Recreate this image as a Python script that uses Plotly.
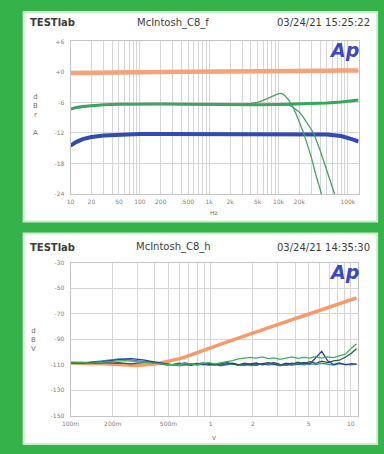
import plotly.graph_objects as go

# ---------------- data: top chart (frequency response) ----------------
freq_top = [10, 12, 15, 20, 30, 50, 100, 200, 500, 1000, 2000, 5000, 10000,
            20000, 30000, 50000, 80000, 100000, 120000, 143000]
orange_top = [-0.2, -0.2, -0.15, -0.1, -0.05, 0.0, 0.0, 0.0, 0.05, 0.05, 0.1,
              0.1, 0.15, 0.2, 0.2, 0.25, 0.3, 0.3, 0.3, 0.3]
green_top = [-7.3, -7.0, -6.8, -6.6, -6.45, -6.35, -6.3, -6.3, -6.35, -6.4,
             -6.45, -6.45, -6.4, -6.3, -6.2, -6.1, -5.9, -5.8, -5.6, -5.5]
blue_top = [-14.5, -13.8, -13.2, -12.8, -12.5, -12.3, -12.2, -12.2, -12.2,
            -12.2, -12.2, -12.2, -12.2, -12.2, -12.2, -12.3, -12.6, -12.9,
            -13.3, -13.7]

freq_thin1 = [10, 20, 50, 100, 1000, 3000, 4000, 5000, 6000, 7000, 8000, 9000,
              10000, 11000, 12000, 14000, 16000, 18000, 20000, 23000, 25000,
              30000, 35000, 40000, 45000]
green_thin1 = [-7.3, -6.6, -6.35, -6.3, -6.4, -6.4, -6.2, -6.0, -5.6, -5.2,
               -4.8, -4.5, -4.25, -4.2, -4.5, -5.5, -6.8, -8.3, -9.8, -12.0,
               -13.5, -17.0, -20.5, -23.0, -25.5]

freq_thin2 = [10, 20, 50, 100, 1000, 5000, 10000, 12000, 14000, 16000, 18000,
              20000, 22000, 25000, 28000, 32000, 40000, 50000, 60000, 70000]
green_thin2 = [-7.3, -6.6, -6.35, -6.3, -6.4, -6.45, -6.4, -6.35, -6.5, -6.9,
               -7.4, -7.9, -8.6, -9.7, -10.8, -12.0, -15.5, -19.5, -23.0, -25.5]

top_ytick_vals = [6, 0, -6, -12, -18, -24]
top_ytick_text = ["+6", "+0", "-6", "-12", "-18", "-24"]
top_xtick_vals = [10, 20, 50, 100, 200, 500, 1000, 2000, 5000, 10000, 20000, 100000]
top_xtick_text = ["10", "20", "50", "100", "200", "500", "1k", "2k", "5k", "10k", "20k", "100k"]

# ---------------- data: bottom chart (THD+N vs level) ----------------
volts = [0.1, 0.11, 0.12, 0.135, 0.15, 0.165, 0.18, 0.2, 0.22, 0.245, 0.27,
         0.3, 0.33, 0.36, 0.4, 0.44, 0.49, 0.54, 0.6, 0.66, 0.73, 0.8, 0.88,
         0.97, 1.07, 1.18, 1.3, 1.43, 1.58, 1.74, 1.92, 2.12, 2.34, 2.58,
         2.84, 3.13, 3.45, 3.8, 4.2, 4.63, 5.1, 5.63, 6.2, 6.84, 7.54, 8.3,
         9.2, 10.1, 11.0]
orange_bot = [-108.5, -108.8, -108.6, -109.0, -108.9, -109.2, -109.4, -109.6,
              -109.9, -110.2, -110.5, -110.6, -110.3, -110.0, -109.4, -108.6,
              -107.6, -106.5, -105.2, -103.8, -102.2, -100.6, -99.0, -97.3,
              -95.6, -93.9, -92.3, -90.7, -89.0, -87.5, -85.9, -84.3, -82.6,
              -81.0, -79.5, -77.8, -76.3, -74.6, -73.0, -71.5, -69.9, -68.3,
              -66.7, -65.2, -63.6, -62.1, -60.4, -58.9, -57.4]
green_bot = [-108.3, -108.6, -108.2, -108.8, -108.5, -108.0, -107.6, -107.2,
             -107.0, -106.8, -107.2, -107.6, -108.0, -108.4, -108.8, -109.2,
             -109.8, -110.2, -109.6, -108.9, -109.5, -110.1, -109.0, -108.4,
             -109.3, -108.6, -107.5, -106.8, -105.5, -104.6, -104.2, -104.8,
             -103.9, -105.3, -104.6, -105.8, -104.7, -103.8, -105.1, -104.3,
             -104.9, -103.6, -104.8, -103.9, -104.5, -103.2, -101.5, -97.0,
             -93.5]
darkgreen_bot = [-108.6, -108.4, -108.9, -108.5, -109.0, -108.7, -108.4,
                 -108.8, -108.5, -108.9, -109.3, -108.8, -108.4, -108.0,
                 -108.6, -109.4, -110.3, -109.7, -108.8, -109.9, -110.6,
                 -109.4, -108.6, -109.8, -110.4, -109.1, -108.3, -109.5,
                 -110.2, -108.9, -109.6, -110.5, -109.2, -108.4, -109.7,
                 -110.3, -108.8, -109.5, -108.1, -109.3, -107.6, -108.9,
                 -107.2, -108.4, -107.0, -106.5, -104.0, -101.0, -97.5]
blue_bot = [-108.9, -108.7, -109.1, -108.6, -108.3, -107.9, -107.2, -106.5,
            -105.9, -105.4, -105.2, -105.6, -106.3, -107.0, -107.8, -108.5,
            -109.0, -110.2, -109.4, -108.6, -109.8, -109.0, -110.0, -108.9,
            -109.5, -110.3, -109.4, -108.8, -109.9, -110.6, -109.3, -108.7,
            -110.1, -109.4, -108.5, -109.8, -110.4, -108.9, -109.7, -108.3,
            -109.5, -104.5, -99.5, -107.0, -109.8, -108.6, -110.2, -109.1,
            -109.6]
teal_bot = [-108.7, -108.9, -108.5, -108.2, -107.8, -107.3, -106.6, -106.0,
            -105.5, -105.8, -106.4, -107.0, -107.6, -108.1, -108.3, -108.7,
            -109.5, -110.5, -111.0, -110.2, -109.4, -110.4, -109.7, -110.6,
            -109.8, -110.9, -110.0, -109.3, -110.5, -109.6, -110.8, -110.1,
            -109.2, -110.3, -109.7, -110.9, -109.9, -110.6, -109.5, -110.2,
            -109.1, -110.0, -108.8, -109.6, -110.3, -109.2, -109.8, -110.1,
            -109.5]

bot_ytick_vals = [-30, -50, -70, -90, -110, -130, -150]
bot_ytick_text = ["-30", "-50", "-70", "-90", "-110", "-130", "-150"]
bot_xtick_vals = [0.1, 0.2, 0.5, 1, 2, 5, 10]
bot_xtick_text = ["100m", "200m", "500m", "1", "2", "5", "10"]

W, H = 384, 454
GREEN = "#36b24a"


def px(x):
    return x / W


def py(y):
    return 1 - y / H


fig = go.Figure()

# top traces
fig.add_trace(go.Scatter(x=freq_top, y=orange_top, mode="lines",
                         line=dict(color="#f6a27a", width=4.5), xaxis="x", yaxis="y"))
fig.add_trace(go.Scatter(x=freq_top, y=blue_top, mode="lines",
                         line=dict(color="#3349b3", width=4), xaxis="x", yaxis="y"))
fig.add_trace(go.Scatter(x=freq_top, y=green_top, mode="lines",
                         line=dict(color="#33a85c", width=3), xaxis="x", yaxis="y"))
fig.add_trace(go.Scatter(x=freq_thin1, y=green_thin1, mode="lines",
                         line=dict(color="#4a9e68", width=1.3), xaxis="x", yaxis="y"))
fig.add_trace(go.Scatter(x=freq_thin2, y=green_thin2, mode="lines",
                         line=dict(color="#4a9e68", width=1.3), xaxis="x", yaxis="y"))

# bottom traces
fig.add_trace(go.Scatter(x=volts, y=orange_bot, mode="lines",
                         line=dict(color="#f59a68", width=3.5), xaxis="x2", yaxis="y2"))
fig.add_trace(go.Scatter(x=volts, y=teal_bot, mode="lines",
                         line=dict(color="#4a86c8", width=1.3), xaxis="x2", yaxis="y2"))
fig.add_trace(go.Scatter(x=volts, y=blue_bot, mode="lines",
                         line=dict(color="#2e3f9e", width=1.3), xaxis="x2", yaxis="y2"))
fig.add_trace(go.Scatter(x=volts, y=darkgreen_bot, mode="lines",
                         line=dict(color="#1f5e3c", width=1.3), xaxis="x2", yaxis="y2"))
fig.add_trace(go.Scatter(x=volts, y=green_bot, mode="lines",
                         line=dict(color="#3fae5e", width=1.3), xaxis="x2", yaxis="y2"))

top_minor = [m * 10 ** d for d in range(1, 6) for m in range(1, 10) if m * 10 ** d <= 143000]
bot_minor = [m * 10 ** d for d in (-1, 0) for m in range(1, 10)] + [10]

tick_font = dict(family="DejaVu Sans", size=6, color="#808080")
grid_c = "#d6d6d6"
axis_c = "#c4c4c4"

common_x = dict(type="log", showline=True, linecolor=axis_c, mirror=True,
                tickmode="array", ticks="", tickfont=tick_font,
                showgrid=True, gridcolor=grid_c, gridwidth=1, zeroline=False,
                ticklabelstandoff=2)
common_y = dict(showline=True, linecolor=axis_c, mirror=True, tickmode="array",
                ticks="", tickfont=tick_font, showgrid=True, gridcolor=grid_c,
                gridwidth=1, zeroline=False, ticklabelstandoff=4)

fig.update_layout(
    width=W, height=H, margin=dict(l=0, r=0, t=0, b=0),
    paper_bgcolor=GREEN, plot_bgcolor="white", showlegend=False,
    xaxis=dict(common_x, domain=[px(63), px(358)], range=[1, 5.155], anchor="y",
               tickvals=top_xtick_vals, ticktext=top_xtick_text,
               minor=dict(tickvals=top_minor, showgrid=True, gridcolor=grid_c,
                          gridwidth=1, ticks="")),
    yaxis=dict(common_y, domain=[py(193), py(38)], range=[-24, 6], anchor="x",
               tickvals=top_ytick_vals, ticktext=top_ytick_text),
    xaxis2=dict(common_x, domain=[px(63), px(357)], range=[-1, 1.049], anchor="y2",
                tickvals=bot_xtick_vals, ticktext=bot_xtick_text,
                minor=dict(tickvals=bot_minor, showgrid=True, gridcolor=grid_c,
                           gridwidth=1, ticks="")),
    yaxis2=dict(common_y, domain=[py(418), py(263)], range=[-150, -30], anchor="x2",
                tickvals=bot_ytick_vals, ticktext=bot_ytick_text),
)

# white panels
for (y0, y1) in [(8, 221), (233, 447)]:
    fig.add_shape(type="rect", xref="paper", yref="paper", layer="below",
                  x0=px(15), x1=px(377), y0=py(y1), y1=py(y0),
                  fillcolor="white", line=dict(color="#c9edcb", width=2))

title_font = dict(family="DejaVu Sans", size=10, color="#3c3c3c")
ann = []


def text(x, y, s, anchor="center", font=None, yanchor="middle"):
    ann.append(dict(x=px(x), y=py(y), xref="paper", yref="paper", text=s,
                    showarrow=False, xanchor=anchor, yanchor=yanchor,
                    font=font or title_font))


for y, name, date in [(19, "McIntosh_C8_f", "03/24/21 15:25:22"),
                      (247, "McIntosh_C8_h", "03/24/21 14:35:30")]:
    text(19, y, "<b>TESTlab</b>", anchor="left")
    text(168, y, name)
    text(372, y, date, anchor="right")

logo_font = dict(family="DejaVu Sans", size=19, color="#3a48c4")
text(343, 47, "<b><i>Ap</i></b>", font=logo_font)
text(343, 272, "<b><i>Ap</i></b>", font=logo_font)

small = dict(family="DejaVu Sans", size=6, color="#707070")
text(210, 212, "Hz", font=small)
text(210, 440, "V", font=small)
text(27, 113, "d<br>B<br>r<br> <br>A", font=dict(small, size=7))
text(25, 341, "d<br>B<br>V", font=dict(small, size=7))

fig.update_layout(annotations=ann)

post = (
    "document.documentElement.style.margin='0';"
    "document.documentElement.style.background='" + GREEN + "';"
    "document.body.style.margin='0';"
    "document.body.style.padding='0';"
    "document.body.style.background='" + GREEN + "';"
    "document.body.style.overflow='hidden';"
)
fig.write_html("out.html", config={"displayModeBar": False}, post_script=post)
